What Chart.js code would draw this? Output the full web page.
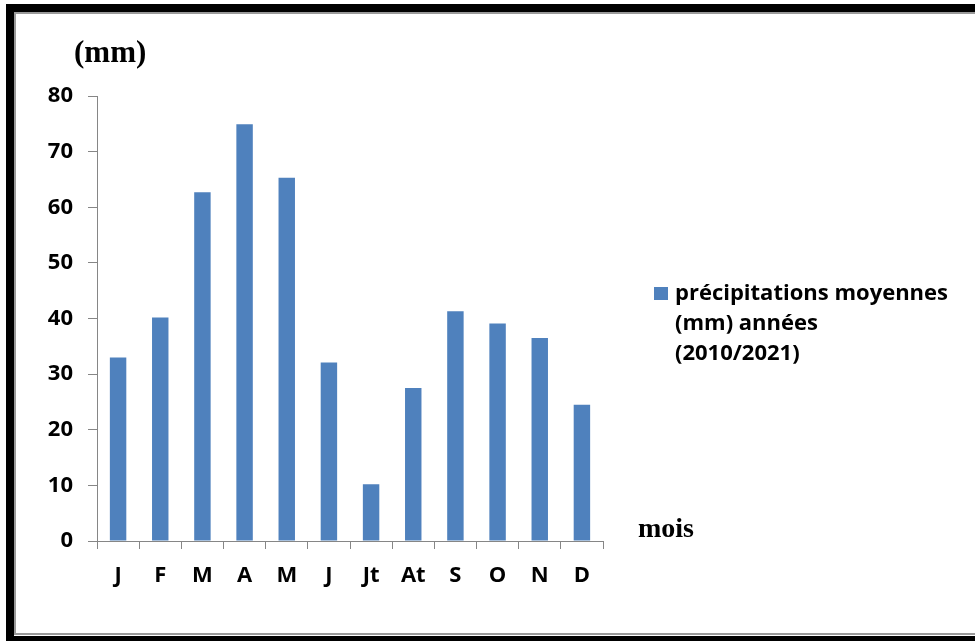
<!DOCTYPE html>
<html>
<head>
<meta charset="utf-8">
<script src="https://cdn.jsdelivr.net/npm/chart.js@4/dist/chart.umd.min.js"></script>
<style>
  html, body { margin: 0; padding: 0; background: #ffffff; }
  #wrap { position: relative; width: 975px; height: 641px; }
</style>
</head>
<body>
<div id="wrap"><canvas id="c" width="975" height="641"></canvas></div>
<script>
// Monthly average precipitation (mm), 2010–2021
const months = ['J', 'F', 'M', 'A', 'M', 'J', 'Jt', 'At', 'S', 'O', 'N', 'D'];
const precipitation = [33.0, 40.2, 62.7, 74.9, 65.3, 32.1, 10.2, 27.5, 41.3, 39.1, 36.5, 24.5];
const seriesLabel = ['précipitations moyennes', '(mm) années', '(2010/2021)'];
const yTicks = [0, 10, 20, 30, 40, 50, 60, 70, 80];

const barColor = '#4F81BD';
const axisColor = '#868686';
const tickFont = { family: '"Open Sans", "DejaVu Sans", sans-serif', size: 22, weight: 'bold' };

// Black frame, axis captions and the side legend
const decorations = {
  id: 'decorations',
  beforeDraw(chart) {
    const ctx = chart.ctx;
    ctx.save();
    ctx.fillStyle = '#ffffff';
    ctx.fillRect(0, 0, chart.width, chart.height);
    ctx.restore();
  },
  afterDraw(chart) {
    const ctx = chart.ctx;
    const W = chart.width, H = chart.height;
    ctx.save();
    // frame
    ctx.fillStyle = '#000000';
    ctx.fillRect(6, 4, W - 6, 8);
    ctx.fillRect(6, 4, 8, H - 4);
    ctx.fillRect(6, 636, W - 6, H - 636);
    ctx.fillStyle = '#9a9a9a';
    ctx.fillRect(14, 12, W - 14, 2);
    ctx.fillRect(14, 12, 2, 622);
    ctx.fillRect(14, 633, W - 14, 2);

    // axis captions
    ctx.fillStyle = '#000000';
    ctx.textBaseline = 'alphabetic';
    ctx.textAlign = 'left';
    ctx.font = 'bold 31px "Liberation Serif", "DejaVu Serif", serif';
    ctx.fillText('(mm)', 74, 62);
    ctx.font = 'bold 28px "Liberation Serif", "DejaVu Serif", serif';
    ctx.fillText('mois', 638, 537);

    // legend
    const ds = chart.data.datasets[0];
    ctx.fillStyle = ds.backgroundColor;
    ctx.fillRect(654, 287, 14, 13);
    ctx.fillStyle = '#000000';
    ctx.font = 'bold 22px "Open Sans", "DejaVu Sans", sans-serif';
    ds.label.forEach((t, i) => ctx.fillText(t, 675, 300 + i * 30));
    ctx.restore();
  }
};

new Chart(document.getElementById('c'), {
  type: 'bar',
  data: {
    labels: months,
    datasets: [{
      label: seriesLabel,
      data: precipitation,
      backgroundColor: barColor,
      borderWidth: 0,
      barPercentage: 0.39,
      categoryPercentage: 1.0
    }]
  },
  options: {
    responsive: false,
    animation: false,
    devicePixelRatio: 1,
    layout: { padding: { top: 96, left: 0, right: 372, bottom: 0 } },
    plugins: {
      legend: { display: false },
      tooltip: { enabled: false },
      title: { display: false }
    },
    scales: {
      x: {
        grid: {
          drawOnChartArea: false,
          drawTicks: true,
          tickLength: 8,
          color: axisColor,
          offset: true
        },
        border: { display: true, color: axisColor, width: 1 },
        ticks: {
          color: '#000000',
          font: tickFont,
          padding: 14,
          maxRotation: 0,
          autoSkip: false
        },
        afterFit(scale) { scale.height = 100; }
      },
      y: {
        min: 0,
        max: 80,
        afterBuildTicks(scale) { scale.ticks = yTicks.map(v => ({ value: v })); },
        grid: {
          drawOnChartArea: false,
          drawTicks: true,
          tickLength: 9,
          color: axisColor
        },
        border: { display: true, color: axisColor, width: 1 },
        ticks: {
          color: '#000000',
          font: tickFont,
          padding: 15
        },
        afterFit(scale) { scale.width = 97; }
      }
    }
  },
  plugins: [decorations]
});
</script>
</body>
</html>
